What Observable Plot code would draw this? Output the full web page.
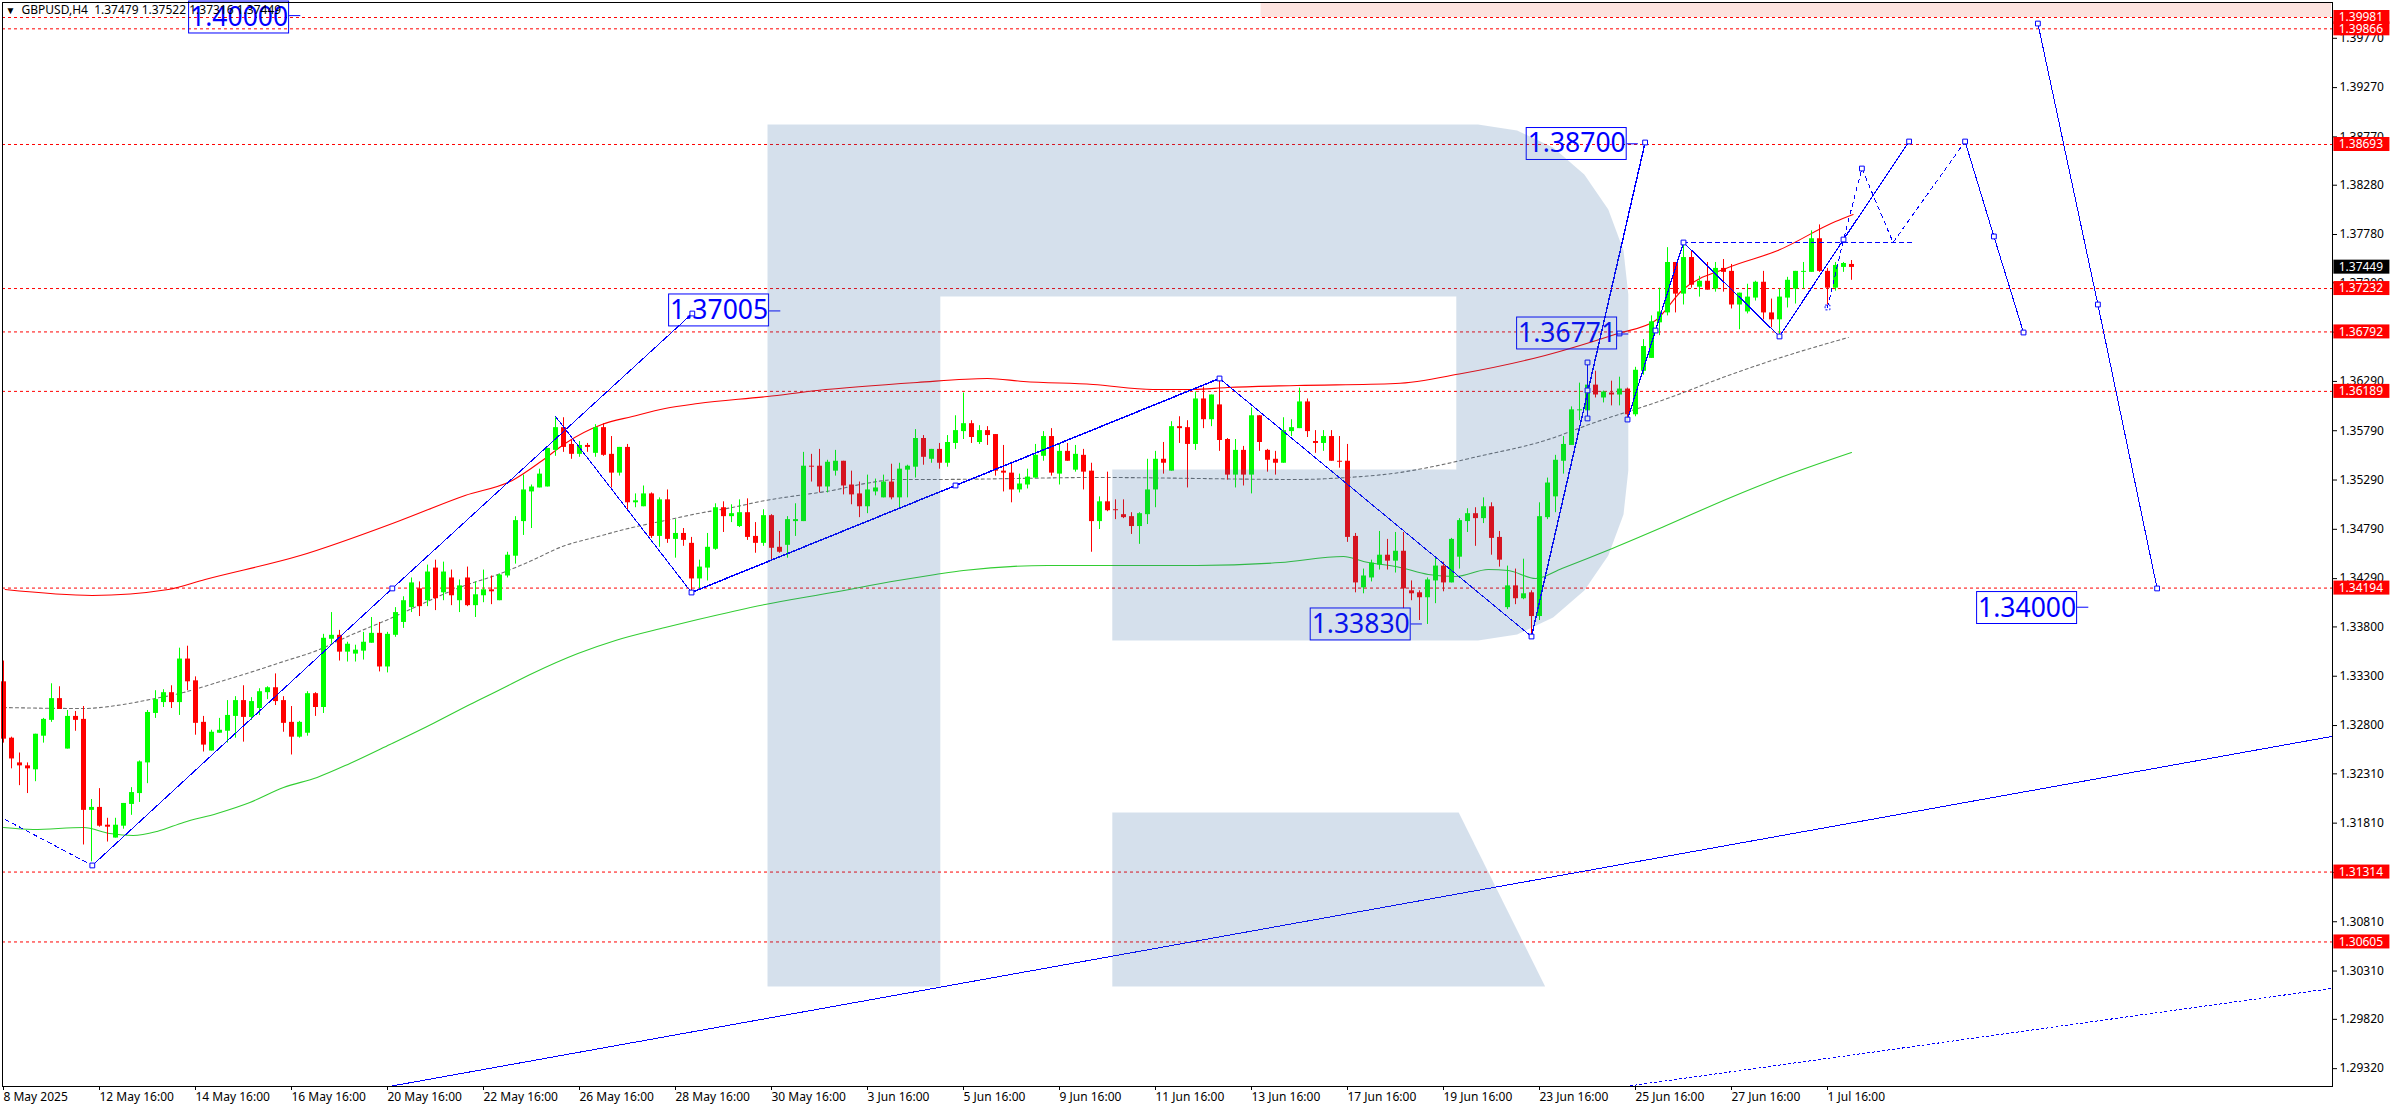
<!DOCTYPE html>
<html><head><meta charset="utf-8">
<script src="https://cdn.jsdelivr.net/npm/d3@7"></script>
<script src="https://cdn.jsdelivr.net/npm/@observablehq/plot@0.6"></script>
<style>html,body{margin:0;padding:0;background:#fff}svg{display:block}</style>
</head><body><div id="chart"></div>
<script>
// readings were first taken with a slightly off price ruler; this recalibrates them against the axis ticks
const cal=p=>1.38693-(1.38693-p)*1.00304;

const open=[1.3326,1.3269,1.3244,1.3241,1.3237,1.3271,1.3287,1.3309,1.3258,1.3291,
1.3288,1.3196,1.3199,1.3181,1.3168,1.3180,1.3202,1.3213,1.3244,1.3294,
1.3305,1.3315,1.3305,1.3349,1.3327,1.3285,1.3256,1.3274,1.3276,1.3291,
1.3307,1.3290,1.3299,1.3315,1.3320,1.3307,1.3285,1.3270,1.3274,1.3314,
1.3300,1.3369,1.3373,1.3356,1.3354,1.3357,1.3365,1.3375,1.3341,1.3373,
1.3386,1.3401,1.3420,1.3408,1.3441,1.3416,1.3431,1.3408,1.3431,1.3403,
1.3413,1.3419,1.3408,1.3433,1.3453,1.3488,1.3518,1.3522,1.3523,1.3560,
1.3583,1.3566,1.3556,1.3565,1.3557,1.3583,1.3556,1.3537,1.3563,1.3507,
1.3503,1.3516,1.3473,1.3510,1.3470,1.3476,1.3466,1.3430,1.3441,1.3460,
1.3502,1.3493,1.3483,1.3497,1.3473,1.3466,1.3494,1.3462,1.3464,1.3488,
1.3488,1.3544,1.3544,1.3523,1.3539,1.3549,1.3525,1.3516,1.3503,1.3518,
1.3512,1.3528,1.3512,1.3540,1.3543,1.3572,1.3551,1.3561,1.3547,1.3567,
1.3579,1.3587,1.3568,1.3580,1.3576,1.3539,1.3537,1.3520,1.3525,1.3532,
1.3554,1.3574,1.3536,1.3559,1.3540,1.3555,1.3539,1.3488,1.3508,1.3500,
1.3495,1.3493,1.3483,1.3495,1.3520,1.3551,1.3539,1.3584,1.3583,1.3566,
1.3612,1.3591,1.3606,1.3571,1.3535,1.3560,1.3535,1.3595,1.3560,1.3551,
1.3547,1.3579,1.3582,1.3609,1.3569,1.3567,1.3574,1.3549,1.3549,1.3473,
1.3421,1.3431,1.3444,1.3454,1.3448,1.3458,1.3418,1.3416,1.3411,1.3428,
1.3443,1.3426,1.3452,1.3488,1.3496,1.3491,1.3503,1.3472,1.3401,1.3423,
1.3410,1.3416,1.3392,1.3492,1.3513,1.3549,1.3565,1.3600,1.3600,1.3626,
1.3613,1.3618,1.3616,1.3622,1.3596,1.3640,1.3653,1.3689,1.3699,1.3750,
1.3718,1.3755,1.3725,1.3731,1.3723,1.3744,1.3741,1.3707,1.3700,1.3714,
1.3730,1.3699,1.3692,1.3714,1.3723,1.3740,1.3740,1.3774,1.3741,1.3724,1.3745,1.3748].map(cal);
const high=[1.3347,1.3270,1.3254,1.3244,1.3273,1.3289,1.3324,1.3321,1.3297,1.3296,
1.3301,1.3207,1.3218,1.3188,1.3188,1.3203,1.3219,1.3246,1.3297,1.3317,
1.3318,1.3322,1.3360,1.3362,1.3331,1.3291,1.3277,1.3289,1.3307,1.3311,
1.3322,1.3310,1.3319,1.3321,1.3334,1.3311,1.3301,1.3286,1.3316,1.3315,
1.3374,1.3396,1.3378,1.3366,1.3363,1.3376,1.3391,1.3386,1.3376,1.3401,
1.3412,1.3431,1.3427,1.3444,1.3449,1.3447,1.3439,1.3429,1.3442,1.3427,
1.3439,1.3433,1.3435,1.3457,1.3493,1.3535,1.3525,1.3541,1.3562,1.3593,
1.3593,1.3570,1.3569,1.3567,1.3586,1.3587,1.3574,1.3563,1.3566,1.3516,
1.3524,1.3517,1.3512,1.3520,1.3490,1.3481,1.3472,1.3449,1.3476,1.3506,
1.3508,1.3505,1.3510,1.3511,1.3487,1.3500,1.3495,1.3478,1.3493,1.3506,
1.3558,1.3556,1.3561,1.3550,1.3560,1.3549,1.3539,1.3528,1.3535,1.3531,
1.3535,1.3546,1.3547,1.3545,1.3581,1.3575,1.3561,1.3567,1.3575,1.3595,
1.3618,1.3590,1.3585,1.3584,1.3576,1.3565,1.3548,1.3536,1.3541,1.3566,
1.3579,1.3582,1.3567,1.3567,1.3565,1.3561,1.3547,1.3513,1.3538,1.3510,
1.3510,1.3497,1.3497,1.3551,1.3559,1.3568,1.3589,1.3594,1.3590,1.3619,
1.3624,1.3616,1.3630,1.3572,1.3571,1.3564,1.3603,1.3595,1.3561,1.3559,
1.3593,1.3591,1.3623,1.3612,1.3580,1.3580,1.3580,1.3574,1.3566,1.3476,
1.3440,1.3449,1.3478,1.3470,1.3477,1.3477,1.3428,1.3418,1.3431,1.3451,
1.3447,1.3471,1.3491,1.3501,1.3502,1.3512,1.3507,1.3478,1.3443,1.3440,
1.3450,1.3418,1.3507,1.3532,1.3555,1.3574,1.3604,1.3628,1.3626,1.3640,
1.3620,1.3630,1.3634,1.3623,1.3644,1.3672,1.3696,1.3724,1.3765,1.3750,
1.3770,1.3762,1.3736,1.3750,1.3750,1.3753,1.3748,1.3719,1.3728,1.3731,
1.3741,1.3713,1.3723,1.3735,1.3741,1.3750,1.3782,1.3788,1.3744,1.3750,1.3750,1.3752].map(cal);
const low=[1.3264,1.3238,1.3221,1.3213,1.3225,1.3264,1.3285,1.3298,1.3258,1.3276,
1.3161,1.3144,1.3179,1.3164,1.3168,1.3177,1.3191,1.3204,1.3223,1.3289,
1.3300,1.3299,1.3292,1.3317,1.3272,1.3255,1.3256,1.3274,1.3264,1.3269,
1.3265,1.3287,1.3292,1.3308,1.3302,1.3275,1.3252,1.3269,1.3271,1.3291,
1.3294,1.3364,1.3347,1.3346,1.3346,1.3348,1.3365,1.3336,1.3335,1.3371,
1.3380,1.3396,1.3392,1.3402,1.3398,1.3408,1.3403,1.3396,1.3402,1.3391,
1.3406,1.3404,1.3408,1.3431,1.3445,1.3474,1.3481,1.3522,1.3523,1.3554,
1.3558,1.3551,1.3553,1.3558,1.3553,1.3554,1.3522,1.3534,1.3499,1.3502,
1.3503,1.3471,1.3462,1.3466,1.3451,1.3463,1.3418,1.3419,1.3428,1.3459,
1.3477,1.3487,1.3482,1.3469,1.3456,1.3463,1.3449,1.3456,1.3451,1.3473,
1.3488,1.3528,1.3517,1.3517,1.3534,1.3515,1.3505,1.3492,1.3496,1.3514,
1.3512,1.3510,1.3501,1.3512,1.3532,1.3545,1.3547,1.3541,1.3543,1.3561,
1.3571,1.3567,1.3566,1.3565,1.3534,1.3518,1.3507,1.3517,1.3521,1.3532,
1.3549,1.3534,1.3525,1.3549,1.3538,1.3520,1.3457,1.3480,1.3498,1.3490,
1.3491,1.3475,1.3465,1.3485,1.3502,1.3536,1.3539,1.3567,1.3522,1.3560,
1.3582,1.3584,1.3559,1.3530,1.3522,1.3524,1.3516,1.3559,1.3538,1.3535,
1.3547,1.3574,1.3582,1.3573,1.3557,1.3559,1.3549,1.3542,1.3467,1.3416,
1.3415,1.3427,1.3439,1.3439,1.3436,1.3400,1.3408,1.3388,1.3384,1.3405,
1.3417,1.3426,1.3440,1.3477,1.3463,1.3486,1.3454,1.3442,1.3399,1.3404,
1.3409,1.3373,1.3388,1.3490,1.3497,1.3536,1.3565,1.3590,1.3600,1.3613,
1.3608,1.3605,1.3605,1.3592,1.3594,1.3636,1.3653,1.3676,1.3696,1.3699,
1.3707,1.3724,1.3715,1.3722,1.3720,1.3720,1.3703,1.3682,1.3698,1.3711,
1.3692,1.3684,1.3677,1.3704,1.3708,1.3723,1.3740,1.3740,1.3707,1.3721,1.3740,1.3732].map(cal);
const close=[1.3268,1.3248,1.3241,1.3238,1.3273,1.3288,1.3309,1.3298,1.3291,1.3287,
1.3196,1.3199,1.3180,1.3179,1.3181,1.3203,1.3214,1.3245,1.3295,1.3308,
1.3315,1.3305,1.3349,1.3326,1.3284,1.3262,1.3275,1.3277,1.3292,1.3307,
1.3290,1.3306,1.3316,1.3320,1.3306,1.3284,1.3270,1.3285,1.3314,1.3300,
1.3370,1.3373,1.3356,1.3364,1.3358,1.3366,1.3375,1.3341,1.3374,1.3396,
1.3408,1.3426,1.3402,1.3437,1.3410,1.3437,1.3413,1.3423,1.3403,1.3414,
1.3419,1.3417,1.3434,1.3454,1.3489,1.3520,1.3523,1.3536,1.3562,1.3583,
1.3563,1.3556,1.3565,1.3563,1.3583,1.3555,1.3537,1.3563,1.3507,1.3509,
1.3516,1.3473,1.3510,1.3470,1.3476,1.3469,1.3430,1.3442,1.3462,1.3502,
1.3493,1.3496,1.3497,1.3472,1.3466,1.3494,1.3461,1.3457,1.3490,1.3490,
1.3544,1.3543,1.3523,1.3548,1.3549,1.3524,1.3515,1.3503,1.3520,1.3522,
1.3528,1.3512,1.3541,1.3544,1.3572,1.3553,1.3561,1.3547,1.3568,1.3580,
1.3587,1.3573,1.3580,1.3575,1.3539,1.3537,1.3520,1.3526,1.3533,1.3555,
1.3574,1.3537,1.3559,1.3549,1.3556,1.3538,1.3488,1.3508,1.3499,1.3499,
1.3492,1.3483,1.3496,1.3520,1.3551,1.3547,1.3584,1.3582,1.3566,1.3612,
1.3591,1.3616,1.3570,1.3535,1.3560,1.3535,1.3595,1.3568,1.3550,1.3547,
1.3580,1.3583,1.3609,1.3579,1.3567,1.3574,1.3549,1.3548,1.3472,1.3426,
1.3433,1.3446,1.3454,1.3448,1.3458,1.3420,1.3415,1.3411,1.3429,1.3443,
1.3426,1.3470,1.3489,1.3496,1.3491,1.3503,1.3471,1.3449,1.3423,1.3410,
1.3415,1.3392,1.3493,1.3527,1.3550,1.3566,1.3601,1.3601,1.3626,1.3616,
1.3619,1.3616,1.3622,1.3596,1.3641,1.3665,1.3690,1.3700,1.3750,1.3718,
1.3755,1.3727,1.3731,1.3722,1.3744,1.3740,1.3707,1.3719,1.3715,1.3730,
1.3699,1.3692,1.3715,1.3732,1.3741,1.3741,1.3774,1.3741,1.3724,1.3747,1.3749,1.3745].map(cal);

// moving averages: [bar index], [price]
const redMaX=[0.2,11.1,20.6,25.2,37.1,49.6,57.7,63.6,67.7,70.2,74.8,78.6,82.7,86.8,95.5,101.7,114.2,123,127.5,136.2,143.7,148.7,153,161.7,174,182.3,192.7,201.8,206.5,209.8,215.6,221.8,229,231.2];
const redMaY=[1.34193,1.34133,1.34193,1.34295,1.34537,1.34891,1.35144,1.35296,1.35518,1.35670,1.35862,1.35943,1.36024,1.36074,1.36145,1.36206,1.36287,1.36327,1.36297,1.36266,1.36216,1.36216,1.36236,1.36256,1.36276,1.36378,1.36560,1.36782,1.36913,1.37217,1.37449,1.37621,1.37914,1.37985].map(cal);
const grayMaX=[0,10,14.2,18.3,22.5,26.7,30.8,35,39.2,43.3,47.5,57.7,61.8,65.2,70.2,74.3,78.6,82.7,86.8,91.1,95.2,99.3,103.6,107.7,111.8,116.5,136.7,161.7,168,174.6,178.1,184.3,192.7,198.9,207.3,215.6,221.8,230.6];
const grayMaY=[1.33000,1.32990,1.33021,1.33081,1.33152,1.33253,1.33354,1.33465,1.33577,1.33728,1.33870,1.34234,1.34345,1.34456,1.34638,1.34729,1.34820,1.34891,1.34962,1.35023,1.35093,1.35144,1.35195,1.35265,1.35306,1.35306,1.35326,1.35306,1.35326,1.35377,1.35427,1.35538,1.35700,1.35882,1.36105,1.36357,1.36529,1.36742].map(cal);
const greenMaX=[0,3.7,10,13.3,16.2,19.2,22.5,26.7,30.8,35,39.2,43.3,48.3,53.7,58.3,62.1,66.1,71.8,76.5,82.7,86.8,95.2,103.6,111.8,116.5,120,130.5,138.7,149.2,159.6,167.5,170,174.6,178.1,181.5,185.6,188.1,191.5,194.8,201.1,207.3,215.6,221.8,231];
const greenMaY=[1.31787,1.31767,1.31787,1.31726,1.31706,1.31747,1.31838,1.31929,1.32040,1.32191,1.32293,1.32434,1.32626,1.32839,1.33031,1.33182,1.33344,1.33546,1.33678,1.33809,1.33890,1.34042,1.34163,1.34284,1.34345,1.34386,1.34436,1.34436,1.34436,1.34466,1.34527,1.34477,1.34416,1.34345,1.34325,1.34396,1.34386,1.34305,1.34406,1.34608,1.34820,1.35114,1.35316,1.35579].map(cal);

// horizontal levels
const levels=[1.39981,1.39866,1.38693,1.37232,1.36792,1.36189,1.34194,1.31314,1.30605];
const lastPrice=1.37449;

// axis labels
const priceTicks=[1.3977,1.3927,1.3877,1.3828,1.3778,1.3729,1.3679,1.3629,1.3579,1.3529,1.3479,1.3429,1.338,1.333,1.328,1.3231,1.3181,1.3131,1.3081,1.3031,1.2982,1.2932];
const timeLabels=["8 May 2025","12 May 16:00","14 May 16:00","16 May 16:00","20 May 16:00","22 May 16:00","26 May 16:00","28 May 16:00","30 May 16:00","3 Jun 16:00","5 Jun 16:00","9 Jun 16:00","11 Jun 16:00","13 Jun 16:00","17 Jun 16:00","19 Jun 16:00","23 Jun 16:00","25 Jun 16:00","27 Jun 16:00","1 Jul 16:00"];

// trend and forecast paths
const trendX=[48.2,291], trendY=[1.29168,1.32707].map(cal);
const lowerTrendX=[202.7,291], lowerTrendY=[1.29168,1.30159].map(cal);
const leadX=[0.2,11.1], leadY=[1.31868,1.31403].map(cal);
const riseX=[11.1,48.6,86.1], riseY=[1.31403,1.34204,1.36984].map(cal);
const fallX=[69,86], fallY=[1.35943,1.34163].map(cal);
const swingX=[86,119,152], swingY=[1.34163,1.35245,1.36327].map(cal);
const dropX=[152,191], dropY=[1.36327,1.33718].map(cal);
const surgeX=[191,205.2], surgeY=[1.33718,1.38713].map(cal);
const barX=[198,198,198], barY=[1.36489,1.36206,1.35923].map(cal);
const waveX=[203,206.5,210,222,230,238.2], waveY=[1.35912,1.36812,1.37702,1.36752,1.37732,1.38723].map(cal);
const flatX=[210,239], flatY=[1.37702,1.37702].map(cal);
const dashX=[228,230,232.3,236.2,245.2], dashY=[1.37045,1.37732,1.38450,1.37702,1.38723].map(cal);
const declineX=[245.2,248.8,252.5], declineY=[1.38723,1.37763,1.36792].map(cal);
const finalX=[254.3,261.8,269.2], finalY=[1.39916,1.37075,1.34204].map(cal);
const nodeX=[11.1,48.6,86.1,86,119,152,191,205.2,198,198,198,203,206.5,210,222,230,238.2,245.2,248.8,252.5,254.3,261.8,269.2,202,232.3];
const nodeY=[1.31403,1.34204,1.36984,1.34163,1.35245,1.36327,1.33718,1.38713,1.36489,1.36206,1.35923,1.35912,1.36812,1.37702,1.36752,1.37732,1.38723,1.38723,1.37763,1.36792,1.39916,1.37075,1.34204,1.36782,1.38450].map(cal);
const dashNodeX=[228], dashNodeY=[1.37045].map(cal);

// boxed price labels
const boxText=["1.40000","1.37005","1.38700","1.36771","1.33830","1.34000"];
const boxValue=[1.40000,1.37005,1.38700,1.36771,1.33830,1.34000];
const boxMid=[1.39977,1.37015,1.38698,1.36782,1.33840,1.34006].map(cal);
const boxLeft=[23.2,83.2,190.4,189.2,163.4,246.7];

// logo outline (bar index, price)
const logoX=[95.5,184.3,189.2,193.7,197.6,200.6,202.5,203.1,203.1,202.5,200.6,197.6,193.7,189.2,184.3,138.6,138.6,181.6,181.6,117.1,117.1,95.5];
const logoY=[1.38895,1.38895,1.38835,1.38663,1.38390,1.38036,1.37621,1.37176,1.35397,1.34952,1.34537,1.34183,1.33910,1.33739,1.33678,1.33678,1.35407,1.35407,1.37156,1.37156,1.30179,1.30179].map(cal);
const legX=[138.6,181.9,192.7,138.6], legY=[1.31939,1.31939,1.30179,1.30179].map(cal);

const pts=(xs,ys)=>xs.map((x,i)=>({x,y:ys[i]}));
const BLUE="#0000ff";
const wave=(xs,ys,w=1,dash=null)=>Plot.line(pts(xs,ys),{x:"x",y:"y",stroke:BLUE,strokeWidth:w,strokeDasharray:dash,shapeRendering:"crispEdges"});
const ma=(xs,ys,c,dash=null)=>Plot.line(pts(xs,ys),{x:"x",y:"y",stroke:c,strokeWidth:1.1,strokeDasharray:dash,curve:"monotone-x"});

const candles=open.map((o,i)=>({i,o,h:high[i],l:low[i],c:close[i],up:close[i]>=o}));
const UP="#00ff00",DOWN="#ff0000";
const colour=d=>d.up?UP:DOWN;

const boxW=12.5,boxH=0.00162;
const boxes=boxText.map((t,i)=>({t,v:boxValue[i],m:boxMid[i],l:boxLeft[i]}));

const axisX0=291.3,axisX1=298.3,tagH=0.00071;
const tags=levels.map(v=>({v}));

const chart=Plot.plot({
  width:2396,height:1110,
  marginLeft:2,marginRight:64,marginTop:2,marginBottom:24,
  style:{fontFamily:"'Noto Sans',sans-serif",fontSize:"12px",background:"#fff",color:"#000",overflow:"visible"},
  x:{domain:[0,291],range:[3,2331]},
  y:{domain:[1.29139,1.40123],range:[1086,3]},
  marks:[
    Plot.rect([{}],{x1:157.2,x2:291,y1:1.39981,y2:1.40123,fill:"#fde3df"}),
    Plot.ruleY(levels,{stroke:"#ff0000",strokeWidth:1,strokeDasharray:"3,3"}),
    ma(greenMaX,greenMaY,"#32cd32"),
    ma(redMaX,redMaY,"#ff0000"),
    ma(grayMaX,grayMaY,"#707070","3,3"),
    Plot.ruleX(candles,{x:"i",y1:"l",y2:"h",stroke:colour,strokeWidth:1}),
    Plot.ruleX(candles,{x:"i",y1:"o",y2:"c",stroke:colour,strokeWidth:5}),
    wave(trendX,trendY,1),
    wave(lowerTrendX,lowerTrendY,1,"2,3"),
    wave(leadX,leadY,1,"4,4"),
    wave(riseX,riseY),
    wave(fallX,fallY),
    wave(swingX,swingY,1.5),
    wave(dropX,dropY),
    wave(surgeX,surgeY,1.4),
    wave(barX,barY,1.4),
    wave(waveX,waveY,1.2),
    wave(flatX,flatY,1,"4,4"),
    wave(dashX,dashY,1,"4,4"),
    wave(declineX,declineY,1),
    wave(finalX,finalY,1),
    Plot.dot(pts(nodeX,nodeY),{x:"x",y:"y",symbol:"square",r:2.7,stroke:BLUE,strokeWidth:1,fill:"#fff"}),
    Plot.dot(pts(dashNodeX,dashNodeY),{x:"x",y:"y",symbol:"square",r:2.7,stroke:BLUE,strokeWidth:1,strokeDasharray:"2,2",fill:"none"}),
    Plot.link(boxes,{x1:d=>d.l+boxW,x2:d=>d.l+boxW+1.4,y1:"v",y2:"v",stroke:BLUE,strokeWidth:1}),
    Plot.rect(boxes,{x1:"l",x2:d=>d.l+boxW,y1:d=>d.m-boxH,y2:d=>d.m+boxH,fill:"none",stroke:BLUE,strokeWidth:1}),
    Plot.text(boxes,{x:d=>d.l+boxW/2,y:"m",text:"t",fill:BLUE,fontSize:26.5,lineAnchor:"middle"}),
    Plot.frame({stroke:"#000",strokeWidth:1}),
    Plot.axisY(priceTicks,{anchor:"right",tickFormat:d=>d.toFixed(5),tickSize:4,tickPadding:3,label:null,fill:"#000",stroke:"#000",fontSize:12}),
    Plot.axisX(timeLabels.map((_,k)=>k*12),{anchor:"bottom",tickFormat:i=>timeLabels[i/12],textAnchor:"start",tickSize:4,tickPadding:2,label:null,fill:"#000",stroke:"#000",fontSize:12}),
    Plot.rect(tags,{x1:axisX0,x2:axisX1,y1:d=>d.v-tagH,y2:d=>d.v+tagH,fill:"#ff0000"}),
    Plot.text(tags,{x:291.9,y:"v",text:d=>d.v.toFixed(5),fill:"#fff",textAnchor:"start",lineAnchor:"middle",fontSize:12}),
    Plot.rect([{v:lastPrice}],{x1:axisX0,x2:axisX1,y1:d=>d.v-tagH,y2:d=>d.v+tagH,fill:"#000"}),
    Plot.text([{v:lastPrice}],{x:291.9,y:"v",text:d=>d.v.toFixed(5),fill:"#fff",textAnchor:"start",lineAnchor:"middle",fontSize:12}),
    Plot.text(["▼"],{frameAnchor:"top-left",dx:3,dy:4,text:d=>d,fill:"#000",fontSize:10,textAnchor:"start",lineAnchor:"top"}),
    Plot.text(["GBPUSD,H4\u00a0\u00a01.37479\u00a01.37522\u00a01.37316\u00a01.37449"],{frameAnchor:"top-left",dx:19,dy:3,text:d=>d,fill:"#000",fontSize:12,textAnchor:"start",lineAnchor:"top"}),
    Plot.line(pts(logoX,logoY),{x:"x",y:"y",fill:"rgb(45,100,160)",fillOpacity:0.2,stroke:"none"}),
    Plot.line(pts(legX,legY),{x:"x",y:"y",fill:"rgb(45,100,160)",fillOpacity:0.2,stroke:"none"})
  ]
});
document.getElementById("chart").appendChild(chart);
</script>
</body></html>
